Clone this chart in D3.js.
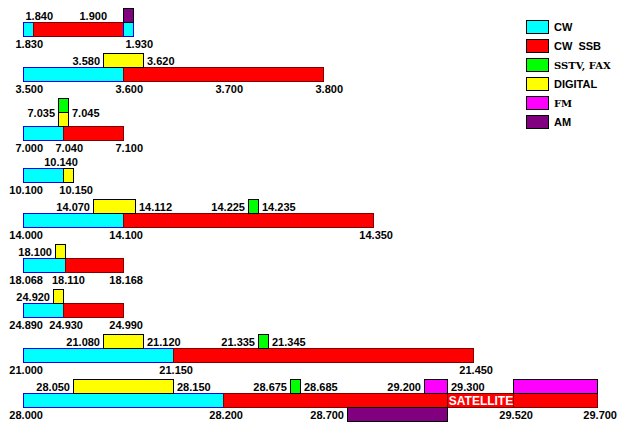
<!DOCTYPE html>
<html><head><meta charset="utf-8">
<script src="https://cdn.jsdelivr.net/npm/d3@7"></script>
<style>body{margin:0;background:#fff}svg{display:block}</style>
</head><body>
<svg id="c" width="624" height="439"></svg>
<script>
// ---------- DATA ----------
const categories = ["CW", "CW  SSB", "SSTV, FAX", "DIGITAL", "FM", "AM"];
const bands = ["160m", "80m", "40m", "30m", "20m", "17m", "12m", "15m", "10m"];
// [band, category index, start MHz, end MHz, level] level 0 = main bar, 1/2 = above, -1 = below
const segments = [
  ["160m", 0, 1.830, 1.840, 0], ["160m", 1, 1.840, 1.920, 0], ["160m", 0, 1.920, 1.930, 0], ["160m", 5, 1.920, 1.930, 1],
  ["80m", 0, 3.500, 3.600, 0], ["80m", 1, 3.600, 3.800, 0], ["80m", 3, 3.580, 3.620, 1],
  ["40m", 0, 7.000, 7.040, 0], ["40m", 1, 7.040, 7.100, 0], ["40m", 3, 7.035, 7.045, 1], ["40m", 2, 7.035, 7.045, 2],
  ["30m", 0, 10.100, 10.140, 0], ["30m", 3, 10.140, 10.150, 0],
  ["20m", 0, 14.000, 14.100, 0], ["20m", 1, 14.100, 14.350, 0], ["20m", 3, 14.070, 14.112, 1], ["20m", 2, 14.225, 14.235, 1],
  ["17m", 0, 18.068, 18.110, 0], ["17m", 1, 18.110, 18.168, 0], ["17m", 3, 18.100, 18.110, 1],
  ["12m", 0, 24.890, 24.930, 0], ["12m", 1, 24.930, 24.990, 0], ["12m", 3, 24.920, 24.930, 1],
  ["15m", 0, 21.000, 21.150, 0], ["15m", 1, 21.150, 21.450, 0], ["15m", 3, 21.080, 21.120, 1], ["15m", 2, 21.335, 21.345, 1],
  ["10m", 0, 28.000, 28.200, 0], ["10m", 1, 28.200, 29.300, 0], ["10m", 1, 29.300, 29.520, 0], ["10m", 1, 29.520, 29.700, 0],
  ["10m", 3, 28.050, 28.150, 1], ["10m", 2, 28.675, 28.685, 1], ["10m", 4, 29.200, 29.300, 1], ["10m", 4, 29.520, 29.700, 1],
  ["10m", 5, 28.700, 29.300, -1]
];
// [band, start, end, text] text inside a bar segment
const segmentNotes = [["10m", 29.300, 29.520, "SATELLITE"]];
// [band, frequency, placement, level]
const freqLabels = [
  ["160m", 1.840, "tick", 1], ["160m", 1.900, "tick", 1], ["160m", 1.830, "tick", -1], ["160m", 1.930, "tick", -1],
  ["80m", 3.580, "before", 1], ["80m", 3.620, "after", 1],
  ["80m", 3.500, "tick", -1], ["80m", 3.600, "tick", -1], ["80m", 3.700, "tick", -1], ["80m", 3.800, "tick", -1],
  ["40m", 7.035, "before", 1.5], ["40m", 7.045, "after", 1.5],
  ["40m", 7.000, "tick", -1], ["40m", 7.040, "tick", -1], ["40m", 7.100, "tick", -1],
  ["30m", 10.140, "center", 1], ["30m", 10.100, "tick", -1], ["30m", 10.150, "tick", -1],
  ["20m", 14.070, "before", 1], ["20m", 14.112, "after", 1], ["20m", 14.225, "before", 1], ["20m", 14.235, "after", 1],
  ["20m", 14.000, "tick", -1], ["20m", 14.100, "tick", -1], ["20m", 14.350, "tick", -1],
  ["17m", 18.100, "before", 1], ["17m", 18.068, "tick", -1], ["17m", 18.110, "tick", -1], ["17m", 18.168, "tick", -1],
  ["12m", 24.920, "before", 1], ["12m", 24.890, "tick", -1], ["12m", 24.930, "tick", -1], ["12m", 24.990, "tick", -1],
  ["15m", 21.080, "before", 1], ["15m", 21.120, "after", 1], ["15m", 21.335, "before", 1], ["15m", 21.345, "after", 1],
  ["15m", 21.000, "tick", -1], ["15m", 21.150, "tick", -1], ["15m", 21.450, "tick", -1],
  ["10m", 28.050, "before", 1], ["10m", 28.150, "after", 1], ["10m", 28.675, "before", 1], ["10m", 28.685, "after", 1],
  ["10m", 29.200, "before", 1], ["10m", 29.300, "after", 1],
  ["10m", 28.000, "tick", -1], ["10m", 28.200, "tick", -1], ["10m", 28.700, "before", -1],
  ["10m", 29.520, "tick", -1], ["10m", 29.700, "tick", -1]
];

// ---------- LAYOUT / STYLE ----------
const x0 = 23;
const pxPerMHz = 1000;
// piecewise scale breakpoints for bands that are not drawn to a uniform scale
const scaleBreaks = {
  "160m": { domain: [1.830, 1.840, 1.900, 1.920, 1.930], offsets: [0, 10, 64, 100, 110] },
  "15m": { domain: [21.000, 21.150, 21.335, 21.345, 21.450], offsets: [0, 150, 235, 245, 450] },
  "10m": { domain: [28.000, 28.200, 28.675, 28.685, 28.700, 29.200, 29.300, 29.520, 29.700],
           offsets: [0, 200, 267, 277, 324, 401, 424, 490, 574] }
};
const fills = ["#00ffff", "#ff0000", "#00ff00", "#ffff00", "#ff00ff", "#800080"];
const strokes = ["#0000ff", "#800000", "#000000", "#000000", "#000000", "#000000"];
const legendSerif = [false, false, true, false, true, false];
const levelH = 14, labelOnlyH = 11, rowGap = 17, topStart = 8;
const font = "'Liberation Sans', Arial, sans-serif";
const serif = "'DejaVu Serif', 'Liberation Serif', serif";

const svg = d3.select("#c");

// x scales
const xScales = {};
bands.forEach(b => {
  if (scaleBreaks[b]) {
    xScales[b] = d3.scaleLinear().domain(scaleBreaks[b].domain).range(scaleBreaks[b].offsets.map(o => x0 + o));
  } else {
    const segs = segments.filter(s => s[0] === b);
    const lo = d3.min(segs, s => s[2]), hi = d3.max(segs, s => s[3]);
    xScales[b] = d3.scaleLinear().domain([lo, hi]).range([x0, x0 + (hi - lo) * pxPerMHz]);
  }
});

// y layout
const barTop = {};
let cursorY = topStart;
bands.forEach(b => {
  const maxLevel = d3.max(segments.filter(s => s[0] === b), s => s[4]);
  const above = maxLevel > 0 ? maxLevel * levelH : labelOnlyH;
  barTop[b] = cursorY + above;
  cursorY = barTop[b] + levelH + rowGap;
});
const levelY = (b, lv) => barTop[b] - lv * levelH; // top edge of a level's box

const snap = v => Math.round(v) + 0.5;

// segments: main bars first, then others
const ordered = segments.slice().sort((a, b) => (a[4] === 0 ? 0 : 1) - (b[4] === 0 ? 0 : 1));
svg.append("g").selectAll("rect").data(ordered).join("rect")
  .attr("x", d => snap(xScales[d[0]](d[2])))
  .attr("y", d => snap(levelY(d[0], d[4])))
  .attr("width", d => Math.round(xScales[d[0]](d[3])) - Math.round(xScales[d[0]](d[2])))
  .attr("height", levelH)
  .attr("fill", d => fills[d[1]])
  .attr("stroke", d => strokes[d[1]])
  .attr("stroke-width", 1);

// notes inside bars
svg.append("g").selectAll("text").data(segmentNotes).join("text")
  .attr("x", d => (xScales[d[0]](d[1]) + xScales[d[0]](d[2])) / 2 + 1)
  .attr("y", d => barTop[d[0]] + levelH / 2 + 5)
  .attr("text-anchor", "middle")
  .attr("font-family", font).attr("font-weight", "bold").attr("font-size", 12)
  .attr("fill", "#fff")
  .text(d => d[3]);

// frequency labels
const fmt = d3.format(".3f");
svg.append("g").selectAll("text").data(freqLabels).join("text")
  .attr("x", d => {
    const x = xScales[d[0]](d[1]);
    if (d[2] === "tick") return x + 20;
    if (d[2] === "before") return x - 3;
    if (d[2] === "after") return x + 4;
    return x - 2;
  })
  .attr("y", d => {
    if (d[3] < 0) return barTop[d[0]] + levelH + 12;
    return levelY(d[0], d[3]) + levelH / 2 + 4.5;
  })
  .attr("text-anchor", d => d[2] === "tick" || d[2] === "before" ? "end" : d[2] === "after" ? "start" : "middle")
  .attr("font-family", font).attr("font-weight", "bold").attr("font-size", 11)
  .attr("fill", "#000")
  .text(d => fmt(d[1]));

// legend
const lg = svg.append("g");
const legY = d3.scaleLinear().domain([0, 1]).range([20, 39]);
lg.selectAll("rect").data(categories).join("rect")
  .attr("x", 526.5).attr("y", (d, i) => Math.round(legY(i)) + 0.5)
  .attr("width", 22).attr("height", 13)
  .attr("fill", (d, i) => fills[i]).attr("stroke", "#000");
lg.selectAll("text").data(categories).join("text")
  .attr("x", 554).attr("y", (d, i) => Math.round(legY(i)) + 11)
  .attr("font-family", (d, i) => legendSerif[i] ? serif : font)
  .attr("font-weight", "bold")
  .attr("font-size", (d, i) => legendSerif[i] ? 10 : 11)
  .style("white-space", "pre")
  .text(d => d);
</script>
</body></html>
